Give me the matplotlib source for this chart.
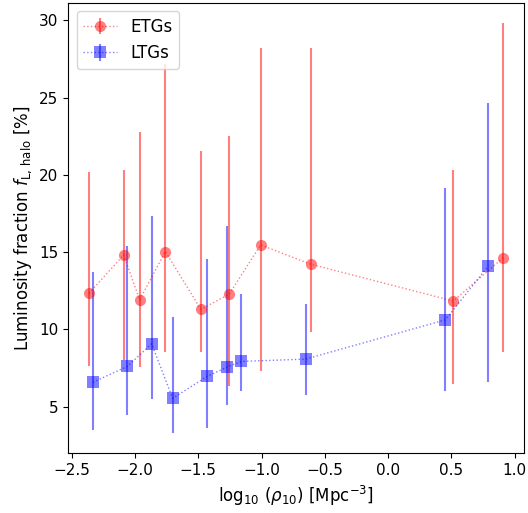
import numpy as np
import matplotlib
matplotlib.use("Agg")
import matplotlib.pyplot as plt

# Early-type galaxies: halo luminosity fraction vs local density
etg_logrho = [-2.363, -2.089, -1.963, -1.760, -1.479, -1.255, -1.007, -0.612, 0.515, 0.910]
etg_frac = [12.33, 14.81, 11.91, 15.03, 11.29, 12.28, 15.46, 14.21, 11.83, 14.64]
etg_err_lo = [7.64, 8.00, 7.53, 8.56, 8.50, 6.31, 7.32, 9.83, 6.48, 8.50]
etg_err_hi = [20.16, 20.29, 22.74, 27.15, 21.56, 22.53, 28.18, 28.18, 20.29, 29.81]

# Late-type galaxies
ltg_logrho = [-2.332, -2.060, -1.868, -1.702, -1.431, -1.270, -1.160, -0.652, 0.452, 0.792]
ltg_frac = [6.57, 7.60, 9.06, 5.53, 6.95, 7.56, 7.92, 8.07, 10.61, 14.10]
ltg_err_lo = [3.47, 4.48, 5.50, 3.30, 3.63, 5.08, 6.03, 5.75, 5.99, 6.59]
ltg_err_hi = [13.72, 15.37, 17.31, 10.78, 14.58, 16.66, 12.28, 11.62, 19.13, 24.63]

plt.rcParams["font.size"] = 11

fig = plt.figure(figsize=(5.28, 5.13), dpi=100)
ax = fig.add_axes([68.3 / 528, 1 - 453.3 / 513, (524 - 68.3) / 528, (453.3 - 2.7) / 513])


def draw(x, y, lo, hi, color, marker, label):
    y = np.asarray(y)
    yerr = [y - np.asarray(lo), np.asarray(hi) - y]
    ax.errorbar(x, y, yerr=yerr, fmt=marker, ls=":", lw=1, color=color,
                alpha=0.5, ms=8, mew=0, elinewidth=1.5, label=label)


draw(etg_logrho, etg_frac, etg_err_lo, etg_err_hi, "red", "o", "ETGs")
draw(ltg_logrho, ltg_frac, ltg_err_lo, ltg_err_hi, "blue", "s", "LTGs")

ax.set_xlabel(r"$\log_{10}\,(\rho_{10})$ [Mpc$^{-3}$]", fontsize=12)
ax.set_ylabel(r"Luminosity fraction $f_{\rm L,\,halo}$ [%]", fontsize=12)
ax.legend(loc="upper left", fontsize=12)

fig.savefig("out.png", dpi=100)
